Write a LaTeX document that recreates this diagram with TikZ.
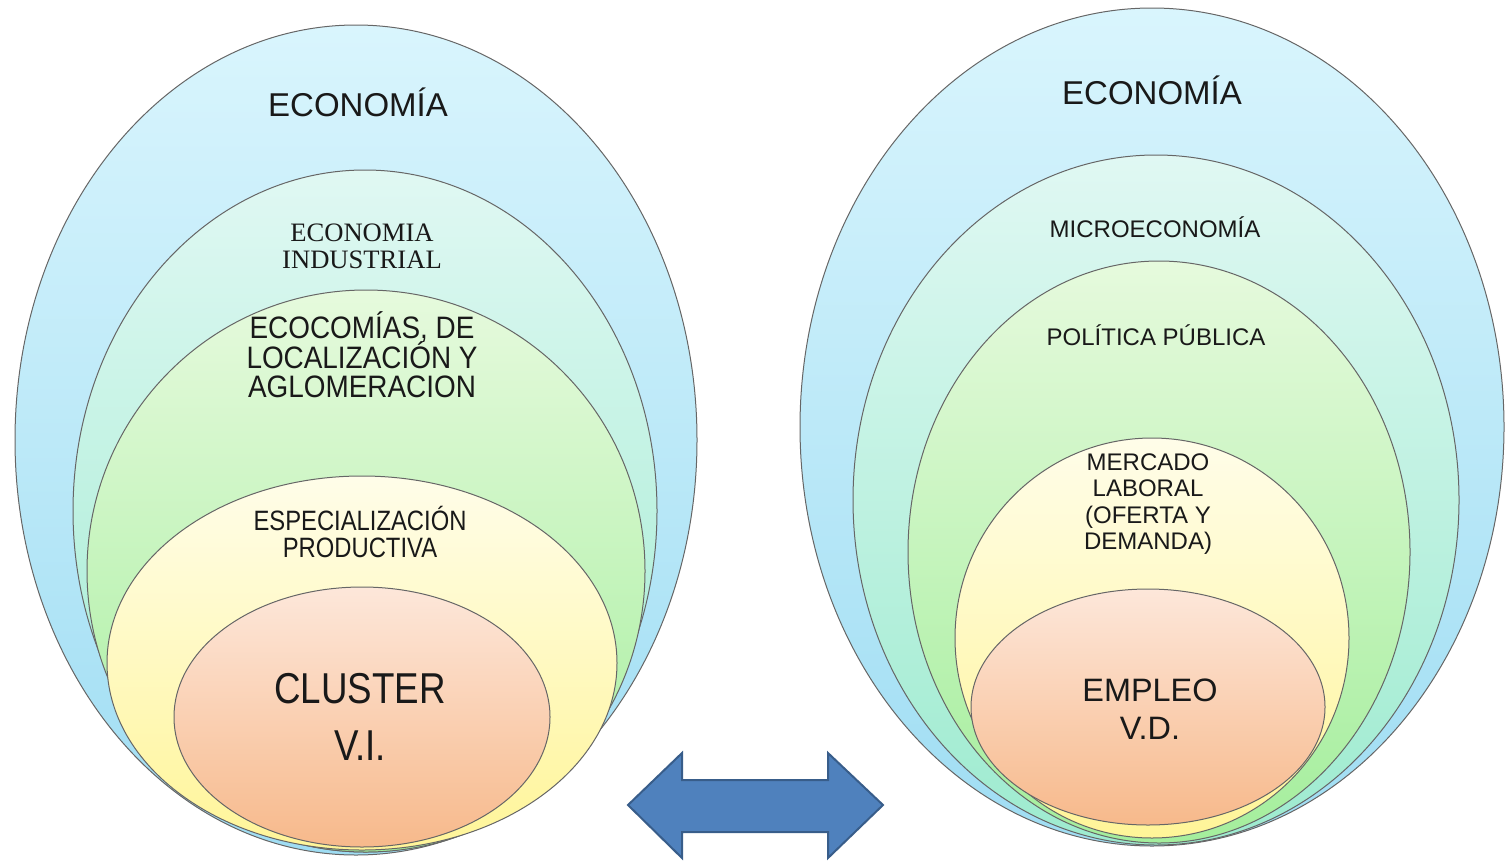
\documentclass[tikz,border=0pt]{standalone}
\usepackage{fontspec}
\setmainfont{Liberation Sans}
\newfontfamily\serifface{Liberation Serif}
\newfontfamily\narrowface[FakeStretch=0.85]{Liberation Sans}
\newfontfamily\semiface[FakeStretch=0.9]{Liberation Sans}
\newcommand\tightlines{\lineskiplimit=-20pt\relax\lineskip=0pt\relax}
\definecolor{blueTop}{HTML}{D9F5FD}
\definecolor{blueBot}{HTML}{9FDDF3}
\definecolor{mintTop}{HTML}{E0F8F3}
\definecolor{mintBot}{HTML}{9DEBCF}
\definecolor{greenTop}{HTML}{E6FADD}
\definecolor{greenBot}{HTML}{A4EE9C}
\definecolor{yellowTop}{HTML}{FFFDE9}
\definecolor{yellowBot}{HTML}{FFF598}
\definecolor{orangeTop}{HTML}{FDE7DA}
\definecolor{orangeBot}{HTML}{F7B98B}
\definecolor{arrowFill}{HTML}{4F81BD}
\definecolor{arrowEdge}{HTML}{385D8A}
\begin{document}
\begin{tikzpicture}[x=0.5pt, y=-0.5pt,
		ring/.style={draw=black!60, line width=0.5pt},
		lbl/.style={align=center, inner sep=0pt, text=black!90}]
				\useasboundingbox (0,0) rectangle (1508,862);
				% left group
				\shade[ring, top color=blueTop,   bottom color=blueBot]   (356,440) ellipse [x radius=341, y radius=415];
				\shade[ring, top color=mintTop,   bottom color=mintBot]   (365,511) ellipse [x radius=292, y radius=341];
				\shade[ring, top color=greenTop,  bottom color=greenBot]  (366,571) ellipse [x radius=279, y radius=281];
				\shade[ring, top color=yellowTop, bottom color=yellowBot] (362,663) ellipse [x radius=255, y radius=187];
				\shade[ring, top color=orangeTop, bottom color=orangeBot] (362,717) ellipse [x radius=188, y radius=130];
				\node[lbl, font=\fontsize{16.5}{18}\selectfont] (econL) at (358,102) {ECONOMÍA};
				\node[lbl, font=\serifface\fontsize{13.3}{13.5}\selectfont] (indus) at (362,246) {ECONOMIA\\INDUSTRIAL};
				\node[lbl, font={\semiface\fontsize{15.5}{14.75}\selectfont\tightlines}] (aglom) at (362,355) {ECOCOMÍAS, DE\\LOCALIZACIÓN Y\\AGLOMERACION};
				\node[lbl, font=\narrowface\fontsize{14}{13.5}\selectfont] (espec) at (360,532) {ESPECIALIZACIÓN\\PRODUCTIVA};
				\node[lbl, font=\narrowface\fontsize{21.6}{28.5}\selectfont] (cluster) at (360,717) {CLUSTER\\V.I.};
				% right group
				\shade[ring, top color=blueTop,   bottom color=blueBot]   (1152,427) ellipse [x radius=352, y radius=419];
				\shade[ring, top color=mintTop,   bottom color=mintBot]   (1156,500) ellipse [x radius=303, y radius=345];
				\shade[ring, top color=greenTop,  bottom color=greenBot]  (1159,552) ellipse [x radius=251, y radius=291];
				\shade[ring, top color=yellowTop, bottom color=yellowBot] (1152,638) ellipse [x radius=197, y radius=200];
				\shade[ring, top color=orangeTop, bottom color=orangeBot] (1148,707) ellipse [x radius=177, y radius=118];
				\node[lbl, font=\fontsize{16.5}{18}\selectfont] (econR) at (1152,90) {ECONOMÍA};
				\node[lbl, font=\fontsize{12}{14}\selectfont] (micro) at (1155,227) {MICROECONOMÍA};
				\node[lbl, font=\fontsize{12}{14}\selectfont] (polit) at (1156,335) {POLÍTICA PÚBLICA};
				\node[lbl, font=\fontsize{12}{13.3}\selectfont] (merc) at (1148,504) {MERCADO\\LABORAL\\(OFERTA Y\\DEMANDA)};
				\node[lbl, font=\fontsize{16.2}{19}\selectfont] (empleo) at (1150,709) {EMPLEO\\V.D.};
				% double arrow between the groups
				\draw[fill=arrowFill, draw=arrowEdge, line width=1pt, line join=miter]
					(628,805) -- (682,753) -- (682,780) -- (828,780) -- (828,753) -- (883,805)
					-- (828,858) -- (828,832) -- (682,832) -- (682,858) -- cycle;
		\end{tikzpicture}
\end{document}
